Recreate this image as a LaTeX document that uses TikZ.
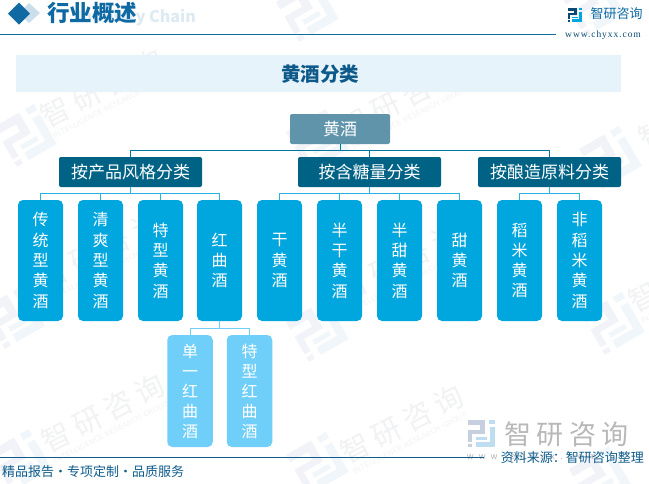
\documentclass[tikz,border=0pt]{standalone}
\usepackage{fontspec}
\setmainfont{Noto Sans CJK SC}
\newfontfamily\widecjk[LetterSpace=20]{Noto Sans CJK SC}
\newfontfamily\sitefont[LetterSpace=10]{Liberation Serif}
\newfontfamily\footsite[LetterSpace=60]{Liberation Sans}
\usepackage{xcolor}
\usetikzlibrary{calc}
\definecolor{headblue}{HTML}{0F6AA3}
\definecolor{bandblue}{HTML}{E6F3FB}
\definecolor{rootgrey}{HTML}{6094AB}
\definecolor{groupteal}{HTML}{006386}
\definecolor{leafblue}{HTML}{00A6DE}
\definecolor{subblue}{HTML}{6FCFF8}
\definecolor{markgrey}{HTML}{F1F2F3}
\definecolor{markblue}{HTML}{F0F6FA}
\definecolor{marknavy}{HTML}{F1F3F8}
\definecolor{footnavy}{HTML}{0E5C8C}
\definecolor{logonavy}{HTML}{C5CFE0}
\definecolor{logosky}{HTML}{BFDDF0}
\tikzset{
  rootbox/.style={draw=none, fill=rootgrey, rounded corners=2pt, minimum width=100pt, minimum height=30pt, inner sep=0pt, text=white, font=\fontsize{17}{18}\selectfont},
  groupbox/.style={draw=none, fill=groupteal, rounded corners=2pt, minimum width=143pt, minimum height=30pt, inner sep=0pt, text=white, font=\fontsize{17}{18}\selectfont},
  leafbox/.style={draw=none, fill=leafblue, rounded corners=5pt, minimum width=45pt, minimum height=121pt, inner sep=0pt, align=center, text=white, font=\fontsize{16}{20.3}\selectfont},
  subbox/.style={draw=none, fill=subblue, rounded corners=5pt, minimum width=45.5pt, minimum height=112pt, inner sep=0pt, align=center, text=white, font=\fontsize{16}{20}\selectfont},
  mainlink/.style={draw=groupteal!70!leafblue, line width=1pt},
  leaflink/.style={draw=leafblue!85, line width=1pt},
  sublink/.style={draw=subblue, line width=1pt},
  marktext/.style={rotate=27, text=markgrey, font=\fontsize{29}{30}\selectfont\widecjk},
  marksub/.style={rotate=27, text=markgrey, font=\fontsize{7.5}{9}\selectfont\sffamily},
  pics/brandlogo/.style 2 args={code={
    \fill[#1] (0,0) rectangle (17,5);
    \fill[#1] (12,5) rectangle (17,14);
    \fill[#1] (0,10) rectangle (12,14);
    \fill[#1] (0,14) rectangle (4,22);
    \fill[#1] (0,24) rectangle (4,27);
    \fill[#2] (21,0) rectangle (27,4);
    \fill[#2] (22,7) rectangle (27,27);
    \fill[#2] (8,22) rectangle (22,27);
    \fill[#2] (8,17) rectangle (19,20);
  }},
}
\begin{document}
\begin{tikzpicture}[x=1pt, y=-1pt]
  \useasboundingbox (0,0) rectangle (649,483);
  \fill[white] (0,0) rectangle (649,483);

  % faint background marks
  \foreach \px/\py in {-6/127, 286/132, 579/149, -18/309, 286/322, 582/315, -11/452, 286/455, 569/469, 276/2, 562/-3} {
    \pic[shift={(\px,\py)}, rotate=30, scale=1.7] {brandlogo={marknavy}{markblue}};
  }
  \foreach \px/\py in {102/88, 401/99, 700/110, 100/250, 400/262, 690/273, 103/413, 402/424} {
    \node[marktext] at (\px,\py) {智研咨询};
    \node[marksub] at ($(\px,\py)+(8,19)$) {INTELLIGENCE RESEARCH GROUP};
  }

  % header
  \fill[headblue!22] (29,3) -- (40,13) -- (29,23) -- (19,13) -- cycle;
  \node[text=headblue!14, font=\fontsize{16}{18}\selectfont\bfseries, anchor=east, inner sep=0pt] (chain) at (196,18) {Industry Chain};
  \fill[headblue] (19,2.5) -- (30,13.5) -- (19,24.5) -- (8,13.5) -- cycle;
  \node[text=headblue, font=\fontsize{22.5}{24}\selectfont\bfseries, anchor=west, inner sep=0pt] (head) at (47,13) {行业概述};
  \draw[headblue, line width=1pt] (0,34.3) -- (556,34.3);
  \pic[shift={(568,8)}, scale=0.52] {brandlogo={headblue!70!black}{leafblue}};
  \node[text=headblue, font=\fontsize{13}{14}\selectfont, anchor=west, inner sep=0pt] (brand) at (590.5,14) {智研咨询};
  \node[text=headblue!70!black, font=\fontsize{9.5}{10}\selectfont\sitefont, anchor=west, inner sep=0pt] (site) at (565,35) {www.chyxx.com};

  % title band
  \fill[bandblue] (16,55) rectangle (621,92);
  \node[text=headblue!85!black, font=\fontsize{19.5}{20}\selectfont\bfseries] (title) at (320,74) {黄酒分类};

  % root and groups
  \node[rootbox] (root) at (340,129) {黄酒};
  \node[groupbox] (style) at (130.5,172) {按产品风格分类};
  \node[groupbox] (sugar) at (369.5,172) {按含糖量分类};
  \node[groupbox] (source) at (549.5,172) {按酿造原料分类};

  % leaves
  \node[leafbox] (l1) at (40.5,260.5) {传\\统\\型\\黄\\酒};
  \node[leafbox] (l2) at (100.5,260.5) {清\\爽\\型\\黄\\酒};
  \node[leafbox] (l3) at (160.5,260.5) {特\\型\\黄\\酒};
  \node[leafbox] (l4) at (219.5,260.5) {红\\曲\\酒};
  \node[leafbox] (l5) at (279.5,260.5) {干\\黄\\酒};
  \node[leafbox] (l6) at (339.5,260.5) {半\\干\\黄\\酒};
  \node[leafbox] (l7) at (399.5,260.5) {半\\甜\\黄\\酒};
  \node[leafbox] (l8) at (459.5,260.5) {甜\\黄\\酒};
  \node[leafbox] (l9) at (519.5,260.5) {稻\\米\\黄\\酒};
  \node[leafbox] (l10) at (579.5,260.5) {非\\稻\\米\\黄\\酒};

  % sub leaves
  \node[subbox] (s1) at (190,391) {单\\一\\红\\曲\\酒};
  \node[subbox] (s2) at (249.5,391) {特\\型\\红\\曲\\酒};

  % links
  \coordinate (rootbus) at (340,150.7);
  \draw[mainlink] (root.south) -- (rootbus);
  \draw[mainlink] (style.north) |- (rootbus);
  \draw[mainlink] (source.north) |- (rootbus);
  \draw[mainlink] (sugar.north) |- (rootbus);

  \coordinate (stylebus) at (130.5,193.7);
  \draw[leaflink] (style.south) -- (stylebus);
  \foreach \leaf in {l1,l2,l3,l4} \draw[leaflink] (\leaf.north) |- (stylebus);
  \coordinate (sugarbus) at (369.5,193.7);
  \draw[leaflink] (sugar.south) -- (sugarbus);
  \foreach \leaf in {l5,l6,l7,l8} \draw[leaflink] (\leaf.north) |- (sugarbus);
  \coordinate (sourcebus) at (549.5,193.7);
  \draw[leaflink] (source.south) -- (sourcebus);
  \foreach \leaf in {l9,l10} \draw[leaflink] (\leaf.north) |- (sourcebus);

  \coordinate (subbus) at (219.5,328.3);
  \draw[sublink] (l4.south) -- (subbus);
  \foreach \leaf in {s1,s2} \draw[sublink] (\leaf.north) |- (subbus);

  % footer
  \pic[shift={(468,420)}] {brandlogo={logonavy}{logosky}};
  \node[text=black!28, font=\fontsize{27}{30}\selectfont\widecjk, anchor=west, inner sep=0pt] (bigbrand) at (504,434) {智研咨询};
  \node[text=black!30, font=\fontsize{9}{10}\selectfont\footsite, anchor=west, inner sep=0pt] (footsite) at (467,457) {www.chyxx.com};
  \draw[footnavy, line width=1pt] (0,457.3) -- (484,457.3);
  \node[text=footnavy, font=\fontsize{13}{14}\selectfont, anchor=east, inner sep=0pt] (note) at (644,458) {资料来源：智研咨询整理};
  \node[text=footnavy, font=\fontsize{13}{14}\selectfont, anchor=west, inner sep=0pt] (slogan) at (2,472) {精品报告·专项定制·品质服务};
\end{tikzpicture}
\end{document}
